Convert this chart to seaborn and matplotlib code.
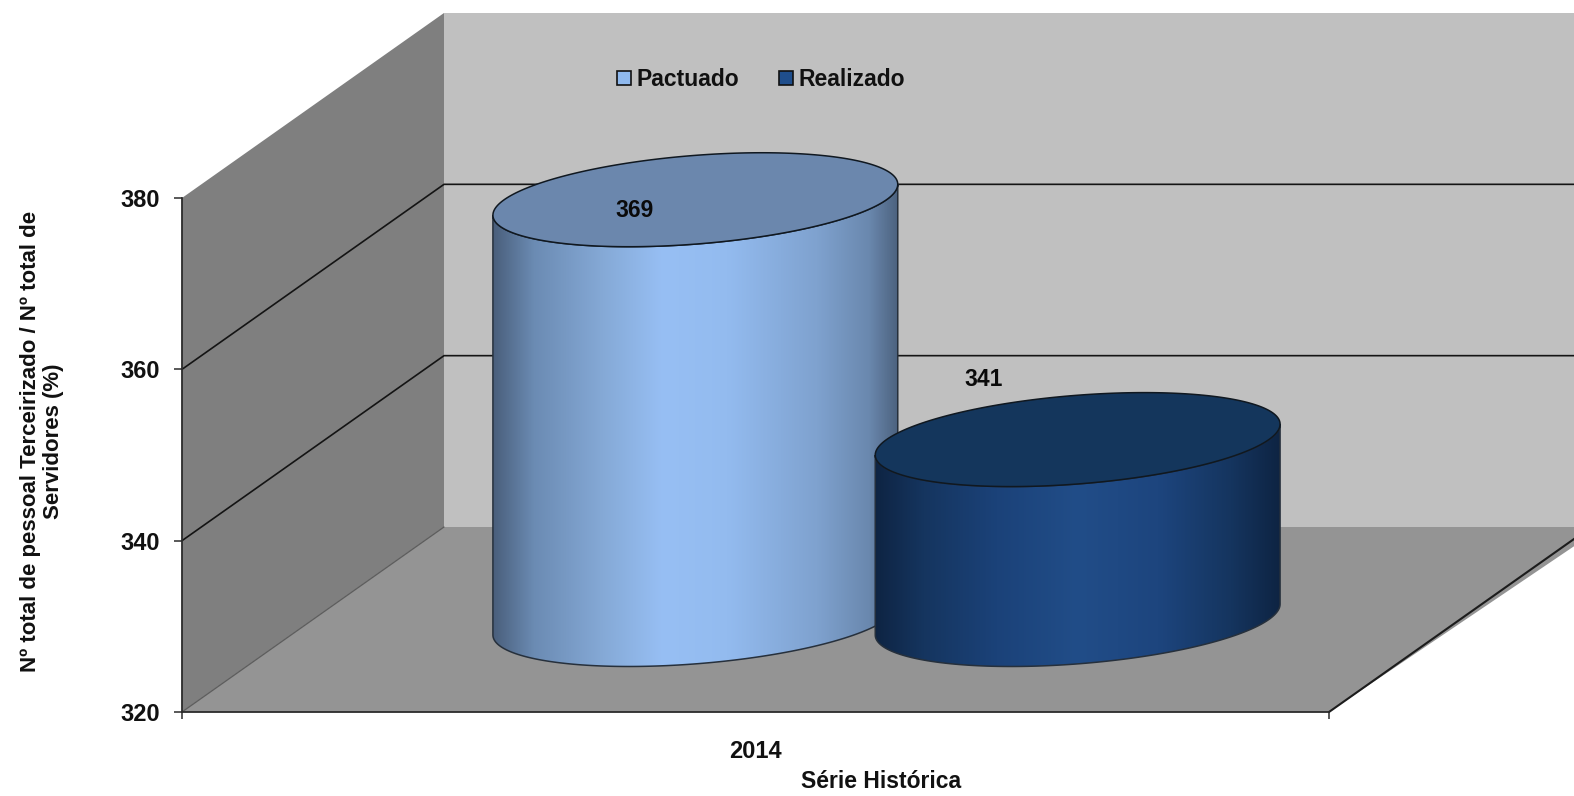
import matplotlib
matplotlib.use("Agg")
import matplotlib.pyplot as plt
import numpy as np
import pandas as pd
import seaborn as sns
from matplotlib.colors import LinearSegmentedColormap
from matplotlib.patches import Patch, Polygon

years = ["2014"]
series = ["Pactuado", "Realizado"]
values = [369, 341]
y_ticks = [320, 340, 360, 380]
grid_ticks = [340, 360]

y_label = "Nº total de pessoal Terceirizado / Nº total de\nServidores (%)"
x_label = "Série Histórica"

side_stops = [
    [(0.0, "#4a5f7c"), (0.1, "#6b8bb3"), (0.27, "#85a9d6"), (0.42, "#97bff4"),
     (0.58, "#93bbef"), (0.8, "#7fa2cf"), (0.93, "#6a88ae"), (1.0, "#4d6380")],
    [(0.0, "#0e2443"), (0.12, "#15355f"), (0.3, "#1b4279"), (0.5, "#214d88"),
     (0.7, "#1d457e"), (0.88, "#15355f"), (1.0, "#0e2443")],
]
cap_colors = ["#6b87ad", "#14365c"]
swatch_colors = ["#8fb9ee", "#1f4e8c"]
# offsets of the value labels from the centre of each top, in points
label_offsets = [(-44, -8), (-68, 43)]

FIG_W, FIG_H = 1574, 796
AX_L, AX_R, AX_B, AX_T = 182, 1329, 712, 198
BACK_DX = 262 / (AX_R - AX_L)
BACK_DY = 185 / ((AX_B - AX_T) / 60)
CENTER_DEPTH = 0.5
RADIUS_DEPTH = 0.254


def project(x, value, depth):
    return x + depth * BACK_DX, value + depth * BACK_DY


def add_face(ax, corners, color, zorder=1):
    pts = [project(*c) for c in corners]
    ax.add_patch(Polygon(pts, closed=True, facecolor=color, edgecolor="none", zorder=zorder, clip_on=False))


def draw_cylinder(fig, ax, bar, base, stops, cap_color, zorder):
    half = bar.get_width() / 2
    cx, cy = project(bar.get_x() + half, 0, CENTER_DEPTH)
    bx, by = RADIUS_DEPTH * BACK_DX, RADIUS_DEPTH * BACK_DY
    top = bar.get_height() + cy
    bottom = base + cy

    # arc of the front side, from the leftmost to the rightmost point
    t0 = np.arctan2(bx, half)
    t = np.linspace(t0 + np.pi, t0 + 2 * np.pi, 120)
    arc_x = cx + half * np.cos(t) + bx * np.sin(t)
    arc_y = by * np.sin(t)
    side = np.vstack([
        np.column_stack([arc_x, bottom + arc_y]),
        np.column_stack([arc_x[::-1], top + arc_y[::-1]]),
    ])
    outline = Polygon(side, closed=True, facecolor="none", edgecolor="#26303c", linewidth=1.1,
                      zorder=zorder + 0.1, clip_on=False)
    ax.add_patch(outline)

    cmap = LinearSegmentedColormap.from_list("side", stops)
    im = ax.imshow(np.linspace(0, 1, 256)[None, :], cmap=cmap, aspect="auto", zorder=zorder,
                   extent=(arc_x.min(), arc_x.max(), bottom - by * 1.2, top + by * 1.2))
    im.set_clip_box(fig.bbox)
    im.set_clip_path(outline)

    t = np.linspace(0, 2 * np.pi, 240)
    cap = np.column_stack([cx + half * np.cos(t) + bx * np.sin(t), top + by * np.sin(t)])
    ax.add_patch(Polygon(cap, closed=True, facecolor=cap_color, edgecolor="#101820", linewidth=1.1,
                         zorder=zorder + 0.2, clip_on=False))
    return cx, top


sns.set_theme(style="white")
plt.rcParams["font.family"] = ["Liberation Sans", "DejaVu Sans"]
plt.rcParams["font.weight"] = "bold"
plt.rcParams["axes.labelweight"] = "bold"

fig = plt.figure(figsize=(FIG_W / 100, FIG_H / 100), dpi=100, facecolor="white")
ax = fig.add_axes([AX_L / FIG_W, 1 - AX_B / FIG_H, (AX_R - AX_L) / FIG_W, (AX_B - AX_T) / FIG_H])

df = pd.DataFrame({"ano": years * len(series), "serie": series, "valor": values})
sns.barplot(data=df, x="ano", y="valor", hue="serie", hue_order=series, width=2 / 3, gap=0,
            legend=False, ax=ax)
bars = [c[0] for c in ax.containers]
for bar in bars:
    bar.set_visible(False)

x0, x1 = -0.5, 0.5
y0, y1 = y_ticks[0], y_ticks[-1]

# walls and floor
x_far = x1 + 0.01
add_face(ax, [(x0, y0, 1), (x0, y1, 1), (x_far, y1, 1), (x_far, y0, 1)], "#c0c0c0")
add_face(ax, [(x0, y0, 0), (x0, y1, 0), (x0, y1, 1), (x0, y0, 1)], "#7f7f7f")
add_face(ax, [(x0, y0, 0), (x0, y0, 1), (x_far, y0, 1), (x1, y0, 0)], "#949494")

for v in grid_ticks:
    px, py = zip(*[project(x0, v, 0), project(x0, v, 1), project(x1, v, 1)])
    ax.plot(px, py, color="#141414", lw=1.2, zorder=1.5, clip_on=False)
px, py = zip(*[project(x0, y0, 0), project(x0, y0, 1)])
ax.plot(px, py, color="#5c5c5c", lw=0.9, zorder=1.5, clip_on=False)
px, py = zip(*[project(x1, y0, 0), project(x1, y0, 1)])
ax.plot(px, py, color="#1c1c1c", lw=1.5, zorder=1.5, clip_on=False)

for i, bar in enumerate(bars):
    cx, top = draw_cylinder(fig, ax, bar, y0, side_stops[i], cap_colors[i], zorder=3 + i)
    ax.annotate(str(values[i]), (cx, top), xytext=label_offsets[i], textcoords="offset points",
                ha="center", va="center", fontsize=16.5, fontweight="bold", color="#0a0a0a",
                zorder=6, annotation_clip=False)

ax.set_xlim(x0, x1)
ax.set_ylim(y0, y1)
ax.patch.set_visible(False)
ax.grid(False)

for side in ["top", "right"]:
    ax.spines[side].set_visible(False)
for side in ["left", "bottom"]:
    ax.spines[side].set_color("#2b2b2b")
    ax.spines[side].set_linewidth(1.3)

ax.set_yticks(y_ticks)
ax.set_xticks([x0, x1], minor=True)
ax.tick_params(axis="y", which="major", left=True, length=5.8, width=1.1, color="#2b2b2b", pad=10,
               labelsize=17, labelcolor="#111111")
ax.tick_params(axis="x", which="major", bottom=False, pad=14, labelsize=17, labelcolor="#111111")
ax.tick_params(axis="x", which="minor", bottom=True, length=5, width=1.1, color="#2b2b2b")

ax.set_ylabel(y_label, fontsize=16, fontweight="bold", color="#111111", linespacing=1.15, ha="center", va="center")
ax.yaxis.set_label_coords((42 - AX_L) / (AX_R - AX_L), (AX_B - 441) / (AX_B - AX_T))
ax.set_xlabel(x_label, fontsize=16.5, fontweight="bold", color="#111111", va="center")
ax.xaxis.set_label_coords((881 - AX_L) / (AX_R - AX_L), (AX_B - 781) / (AX_B - AX_T))

handles = [Patch(facecolor=c, edgecolor="#111111", linewidth=1.2) for c in swatch_colors]
ax.legend(handles, series, ncol=2, frameon=False, loc="center left", borderpad=0, borderaxespad=0,
          bbox_to_anchor=((617 - AX_L) / (AX_R - AX_L), (AX_B - 79.5) / (AX_B - AX_T)),
          handlelength=0.62, handleheight=0.62, handletextpad=0.22, columnspacing=1.75,
          prop={"size": 16.5, "weight": "bold"}, labelcolor="#111111")

fig.savefig("out.png", dpi=100, facecolor="white")
plt.close(fig)
